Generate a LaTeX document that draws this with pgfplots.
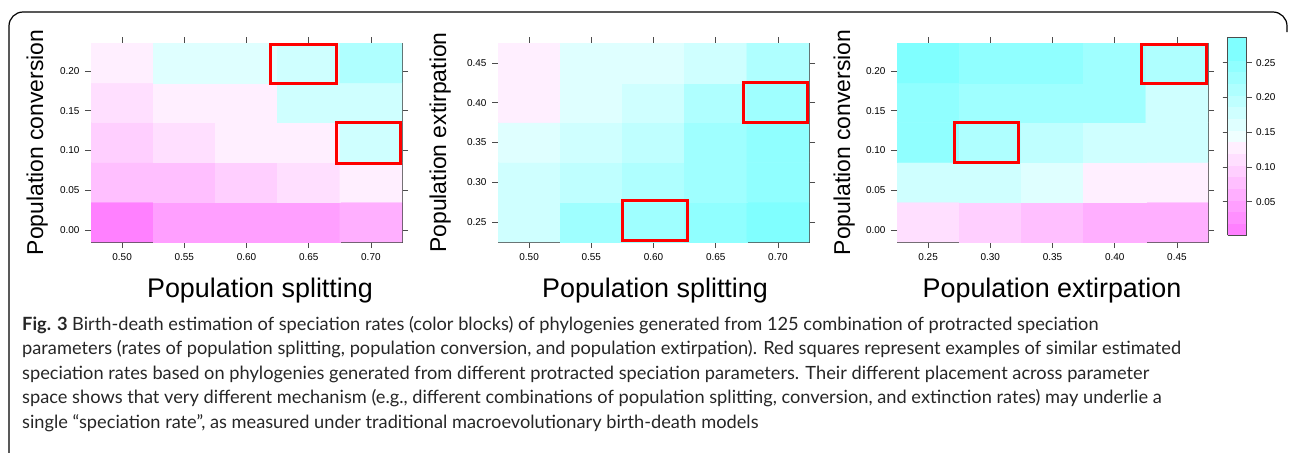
\documentclass[border=0pt]{standalone}
\usepackage{fontspec}
\setmainfont{Liberation Sans}
\newfontfamily\capfont{Lato}
\usepackage{pgfplots}
\usepackage{pgfplotstable}
\pgfplotsset{compat=1.18}
% panel A: x = population splitting, y = population conversion
\pgfplotstableread{
x y v
0.50 0.01 0.0109
0.55 0.01 0.0465
0.60 0.01 0.0465
0.65 0.01 0.0465
0.70 0.01 0.0643
0.50 0.06 0.0822
0.55 0.06 0.0822
0.60 0.06 0.1000
0.65 0.06 0.1178
0.70 0.06 0.1356
0.50 0.11 0.1000
0.55 0.11 0.1178
0.60 0.11 0.1356
0.65 0.11 0.1356
0.70 0.11 0.1712
0.50 0.16 0.1178
0.55 0.16 0.1356
0.60 0.16 0.1356
0.65 0.16 0.1712
0.70 0.16 0.1712
0.50 0.21 0.1356
0.55 0.21 0.1534
0.60 0.21 0.1534
0.65 0.21 0.1712
0.70 0.21 0.2069
}\dataA
% panel B: x = population splitting, y = population extirpation
\pgfplotstableread{
x y v
0.50 0.25 0.1712
0.55 0.25 0.2247
0.60 0.25 0.2247
0.65 0.25 0.2425
0.70 0.25 0.2781
0.50 0.30 0.1712
0.55 0.30 0.1891
0.60 0.30 0.2069
0.65 0.30 0.2247
0.70 0.30 0.2425
0.50 0.35 0.1534
0.55 0.35 0.1712
0.60 0.35 0.1891
0.65 0.35 0.2247
0.70 0.35 0.2425
0.50 0.40 0.1356
0.55 0.40 0.1534
0.60 0.40 0.1712
0.65 0.40 0.2069
0.70 0.40 0.2247
0.50 0.45 0.1356
0.55 0.45 0.1534
0.60 0.45 0.1534
0.65 0.45 0.1712
0.70 0.45 0.2069
}\dataB
% panel C: x = population extirpation, y = population conversion
\pgfplotstableread{
x y v
0.25 0.01 0.1178
0.30 0.01 0.1000
0.35 0.01 0.0822
0.40 0.01 0.0643
0.45 0.01 0.0643
0.25 0.06 0.1712
0.30 0.06 0.1712
0.35 0.06 0.1534
0.40 0.06 0.1356
0.45 0.06 0.1356
0.25 0.11 0.2425
0.30 0.11 0.2069
0.35 0.11 0.1891
0.40 0.11 0.1712
0.45 0.11 0.1712
0.25 0.16 0.2425
0.30 0.16 0.2247
0.35 0.16 0.2247
0.40 0.16 0.2247
0.45 0.16 0.1712
0.25 0.21 0.2781
0.30 0.21 0.2425
0.35 0.21 0.2425
0.40 0.21 0.2247
0.45 0.21 0.2069
}\dataC
\pgfplotsset{
  colormap={cmr}{rgb255=(255,128,255) rgb255=(255,144,255) rgb255=(255,159,255) rgb255=(255,175,255)
    rgb255=(255,191,255) rgb255=(255,207,255) rgb255=(255,223,255) rgb255=(255,239,255)
    rgb255=(239,255,255) rgb255=(223,255,255) rgb255=(207,255,255) rgb255=(191,255,255)
    rgb255=(175,255,255) rgb255=(159,255,255) rgb255=(144,255,255) rgb255=(128,255,255)
    rgb255=(128,255,255)},
  hm/.style={
    scale only axis, width=311bp, height=199bp, anchor=north west,
    colormap name=cmr, colormap access=piecewise constant,
    point meta min=0.002, point meta max=0.287,
    axis line style={black!70, line width=0.7bp},
    tick style={black!70, line width=0.7bp},
    tick align=outside, major tick length=6bp,
    tick label style={font=\fontsize{10}{12}\selectfont},
    xticklabel style={yshift=-2bp},
    yticklabel style={xshift=-2bp},
  },
  convy/.style={ymin=-0.015, ymax=0.235, ytick={0,0.05,0.10,0.15,0.20},
    yticklabels={0.00,0.05,0.10,0.15,0.20}},
  splitx/.style={xmin=0.475, xmax=0.725, xtick={0.50,0.55,0.60,0.65,0.70},
    xticklabels={0.50,0.55,0.60,0.65,0.70}},
}
\begin{document}
\begin{tikzpicture}
\path[use as bounding box] (0,0) rectangle (1290bp,-453bp);
\draw[black, line width=1.2bp, rounded corners=14bp] (9bp,-460bp) -- (9bp,-12bp) -- (1287bp,-12bp) -- (1287bp,-32bp);

% ---- panel 1
\begin{axis}[hm, splitx, convy, at={(91bp,-43bp)}]
\addplot[matrix plot*, shader=flat corner, mesh/cols=5, point meta=explicit] table[x=x, y=y, meta=v] {\dataA};
\draw[red, line width=3bp] (axis cs:0.619,0.184) rectangle (axis cs:0.672,0.233);
\draw[red, line width=3bp] (axis cs:0.672,0.084) rectangle (axis cs:0.7235,0.135);
\end{axis}

% ---- panel 2
\begin{axis}[hm, splitx, at={(498bp,-43bp)},
  ymin=0.225, ymax=0.475, ytick={0.25,0.30,0.35,0.40,0.45},
  yticklabels={0.25,0.30,0.35,0.40,0.45}]
\addplot[matrix plot*, shader=flat corner, mesh/cols=5, point meta=explicit] table[x=x, y=y, meta=v] {\dataB};
\draw[red, line width=3bp] (axis cs:0.672,0.375) rectangle (axis cs:0.7235,0.426);
\draw[red, line width=3bp] (axis cs:0.575,0.2275) rectangle (axis cs:0.627,0.277);
\end{axis}

% ---- panel 3
\begin{axis}[hm, convy, at={(897bp,-43bp)},
  xmin=0.225, xmax=0.475, xtick={0.25,0.30,0.35,0.40,0.45},
  xticklabels={0.25,0.30,0.35,0.40,0.45},
  colorbar right,
  colorbar style={
    at={(parent axis.north east)}, anchor=north west, xshift=11bp, yshift=6bp,
    scale only axis, width=19bp, height=198bp,
    axis line style={black!70, line width=0.7bp},
    tick style={black!70, line width=0.7bp},
    tick align=outside, major tick length=5bp,
    ytick={0.05,0.10,0.15,0.20,0.25},
    yticklabels={0.05,0.10,0.15,0.20,0.25},
    yticklabel style={font=\fontsize{10}{12}\selectfont, xshift=1bp},
  }]
\addplot[matrix plot*, shader=flat corner, mesh/cols=5, point meta=explicit] table[x=x, y=y, meta=v] {\dataC};
\draw[red, line width=3bp] (axis cs:0.4215,0.184) rectangle (axis cs:0.4735,0.2335);
\draw[red, line width=3bp] (axis cs:0.271,0.0855) rectangle (axis cs:0.3225,0.1355);
\end{axis}

% axis labels
\node[anchor=base, font=\fontsize{27}{30}\selectfont] at (260bp,-297bp) {Population splitting};
\node[anchor=base, font=\fontsize{27}{30}\selectfont] at (655bp,-297bp) {Population splitting};
\node[anchor=base, font=\fontsize{27}{30}\selectfont] at (1052bp,-297bp) {Population extirpation};
\node[anchor=base, rotate=90, font=\fontsize{23}{26}\selectfont] at (43bp,-142.5bp) {Population conversion};
\node[anchor=base, rotate=90, font=\fontsize{23}{26}\selectfont] at (446bp,-142.5bp) {Population extirpation};
\node[anchor=base, rotate=90, font=\fontsize{23}{26}\selectfont] at (850bp,-142.5bp) {Population conversion};

% caption
\begin{scope}[every node/.style={anchor=base west, inner sep=0pt, text=black!85, font=\capfont\fontsize{18.3}{21}\selectfont}]
\node at (22bp,-330bp) {\textbf{Fig. 3} Birth-death estimation of speciation rates (color blocks) of phylogenies generated from 125 combination of protracted speciation};
\node at (22bp,-354.5bp) {parameters (rates of population splitting, population conversion, and population extirpation). Red squares represent examples of similar estimated};
\node at (22bp,-379bp) {speciation rates based on phylogenies generated from different protracted speciation parameters. Their different placement across parameter};
\node at (22bp,-403.5bp) {space shows that very different mechanism (e.g., different combinations of population splitting, conversion, and extinction rates) may underlie a};
\node at (22bp,-428bp) {single “speciation rate”, as measured under traditional macroevolutionary birth-death models};
\end{scope}
\end{tikzpicture}
\end{document}
